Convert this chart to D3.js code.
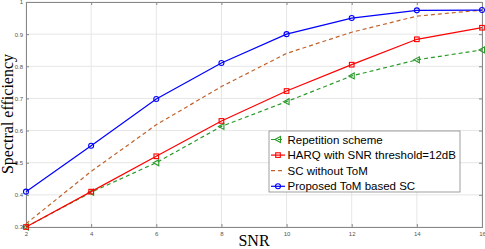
<!DOCTYPE html>
<html lang="en">
<head>
  <meta charset="UTF-8">
  <title>Spectral efficiency vs SNR</title>
  <script src="https://cdn.jsdelivr.net/npm/d3@7"></script>
  <style>
    html, body { margin: 0; padding: 0; background: #fff; }
    .tick text { font-family: "Liberation Sans", Arial, sans-serif; font-size: 6px; fill: #555; }
    .grid line { stroke: #e6e6e6; }
  </style>
</head>
<body>
<svg width="485" height="249"></svg>
<script>
  // data
  var snr = [2, 4, 6, 8, 10, 12, 14, 16];
  var repetition = [0.30, 0.408, 0.50, 0.613, 0.69, 0.77, 0.82, 0.851];
  var harq = [0.30, 0.41, 0.52, 0.63, 0.723, 0.805, 0.884, 0.92];
  var scNoTom = [0.31, 0.473, 0.618, 0.737, 0.84, 0.906, 0.956, 0.975];
  var proposed = [0.41, 0.553, 0.698, 0.81, 0.90, 0.95, 0.974, 0.975];
  var xTicks = [2, 4, 6, 8, 10, 12, 14, 16];
  var yTicks = [0.3, 0.4, 0.5, 0.6, 0.7, 0.8, 0.9, 1];

  var series = [
    { name: "Repetition scheme", values: repetition, color: "#2a9a2a", dash: "4,3", marker: "tri" },
    { name: "HARQ with SNR threshold=12dB", values: harq, color: "#ff0000", dash: null, marker: "square" },
    { name: "SC without ToM", values: scNoTom, color: "#c0622b", dash: "4,3", marker: null },
    { name: "Proposed ToM based SC", values: proposed, color: "#0000ff", dash: null, marker: "circle" }
  ];

  var svg = d3.select("svg"),
      margin = { top: 2, right: 3, left: 26 },
      width = 485 - margin.left - margin.right,
      height = 225,
      g = svg.append("g").attr("transform", "translate(" + margin.left + "," + margin.top + ")");

  var x = d3.scaleLinear().domain([2, 16]).range([0, width]);
  var y = d3.scaleLinear().domain([0.3, 1]).range([height, 0]);

  // grid
  g.append("g").attr("class", "grid")
    .selectAll("line").data(xTicks).enter().append("line")
    .attr("x1", function (d) { return x(d); }).attr("x2", function (d) { return x(d); })
    .attr("y1", 0).attr("y2", height);
  g.append("g").attr("class", "grid")
    .selectAll("line").data(yTicks).enter().append("line")
    .attr("y1", function (d) { return y(d); }).attr("y2", function (d) { return y(d); })
    .attr("x1", 0).attr("x2", width);

  // axes (box on)
  g.append("g")
    .attr("transform", "translate(0," + height + ")")
    .call(d3.axisBottom(x).tickValues(xTicks).tickSize(-3).tickPadding(5).tickFormat(d3.format("d")));
  g.append("g")
    .call(d3.axisLeft(y).tickValues(yTicks).tickSize(-3).tickPadding(3).tickFormat(function (d) { return d === 1 ? "1" : d3.format(".1f")(d); }));
  g.append("g")
    .attr("transform", "translate(" + width + ",0)")
    .call(d3.axisRight(y).tickValues(yTicks).tickSize(-3).tickFormat(""));
  g.append("g")
    .call(d3.axisTop(x).tickValues(xTicks).tickSize(-3).tickFormat(""));
  g.selectAll(".domain").attr("stroke", "#888");
  g.selectAll(".tick line").attr("stroke", "#888");

  // lines
  var line = d3.line()
    .x(function (d, i) { return x(snr[i]); })
    .y(function (d) { return y(d); });

  function drawMarker(sel, type, color, cx, cy) {
    if (type === "circle") {
      sel.append("circle").attr("cx", cx).attr("cy", cy).attr("r", 2.5)
        .attr("fill", "none").attr("stroke", color).attr("stroke-width", 1.1);
    } else if (type === "square") {
      sel.append("rect").attr("x", cx - 2.3).attr("y", cy - 2.3).attr("width", 4.6).attr("height", 4.6)
        .attr("fill", "none").attr("stroke", color).attr("stroke-width", 1.1);
    } else if (type === "tri") {
      sel.append("path")
        .attr("d", "M" + (cx - 3) + "," + cy + "L" + (cx + 2.5) + "," + (cy - 3) + "L" + (cx + 2.5) + "," + (cy + 3) + "Z")
        .attr("fill", "none").attr("stroke", color).attr("stroke-width", 1.1);
    }
  }

  series.forEach(function (s) {
    g.append("path")
      .datum(s.values)
      .attr("d", line)
      .attr("fill", "none")
      .attr("stroke", s.color)
      .attr("stroke-width", 1.2)
      .attr("stroke-dasharray", s.dash);
    if (s.marker) {
      var mg = g.append("g");
      s.values.forEach(function (v, i) { drawMarker(mg, s.marker, s.color, x(snr[i]), y(v)); });
    }
  });

  // axis labels
  svg.append("text")
    .attr("x", margin.left + width / 2).attr("y", 246)
    .attr("text-anchor", "middle")
    .attr("font-family", "Liberation Serif, Times New Roman, serif")
    .attr("font-size", 16)
    .text("SNR");
  svg.append("text")
    .attr("transform", "translate(13," + (margin.top + 112) + ") rotate(-90)")
    .attr("text-anchor", "middle")
    .attr("font-family", "Liberation Serif, Times New Roman, serif")
    .attr("font-size", 16)
    .text("Spectral efficiency");

  // legend
  var legend = svg.append("g").attr("transform", "translate(269,131)");
  legend.append("rect").attr("width", 191).attr("height", 61)
    .attr("fill", "#fff").attr("stroke", "#888").attr("stroke-width", 0.8);
  series.forEach(function (s, i) {
    var ly = 8.5 + i * 15.6;
    var lg = legend.append("g");
    lg.append("line").attr("x1", 2).attr("x2", 16).attr("y1", ly).attr("y2", ly)
      .attr("stroke", s.color).attr("stroke-width", 1.2).attr("stroke-dasharray", s.dash);
    if (s.marker) drawMarker(lg, s.marker, s.color, 9, ly);
    lg.append("text").attr("x", 18.5).attr("y", ly).attr("dy", "0.35em")
      .attr("font-family", "Liberation Sans, Arial, sans-serif")
      .attr("font-size", 11.5)
      .text(s.name);
  });
</script>
</body>
</html>
